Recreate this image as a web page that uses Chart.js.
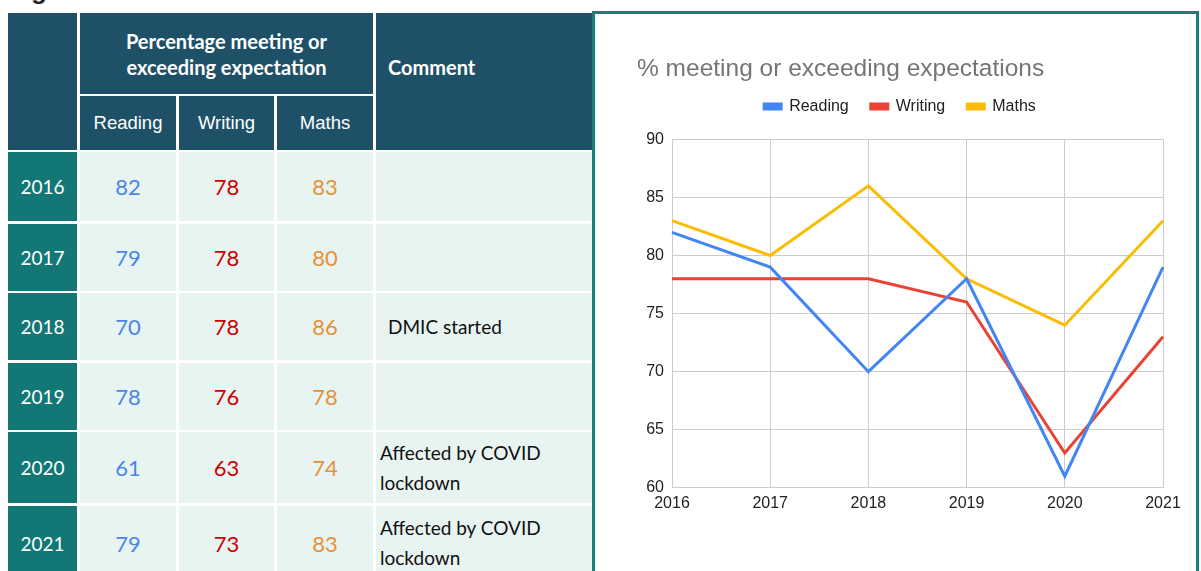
<!DOCTYPE html>
<html>
<head>
<meta charset="utf-8">
<script src="https://cdn.jsdelivr.net/npm/chart.js@4.4.1/dist/chart.umd.min.js"></script>
<style>
  html, body { margin: 0; padding: 0; background: #fff; }
  body { width: 1201px; height: 571px; position: relative; overflow: hidden; font-family: Lato, "Noto Sans", sans-serif; }
  .fig { position: absolute; left: 8px; top: -25px; font: bold 26px "Liberation Sans", Arial, sans-serif; color: #222; }
  .cell { position: absolute; box-sizing: border-box; display: flex; align-items: center; justify-content: center; }
  .hd { background: #1e5168; color: #fff; }
  .yr { background: #137875; color: #fff; font-size: 19px; }
  .bd { background: #e8f4f1; font-size: 22px; }
  .cm { justify-content: flex-start; font-size: 19px; color: #111; line-height: 30px; }
  .box { position: absolute; left: 592px; top: 11px; width: 607px; height: 570px; box-sizing: border-box;
         border: 3px solid #147f7b; border-bottom: none; background: #fff; }
  #wrap { position: absolute; left: 597px; top: 15px; width: 598px; height: 555px; }
</style>
</head>
<body>
<div class="fig">Figure 1</div>
<div id="table"></div>
<div class="box"></div>
<div id="wrap"><canvas id="c"></canvas></div>
<script>
const years = ['2016', '2017', '2018', '2019', '2020', '2021'];
const reading = [82, 79, 70, 78, 61, 79];
const writing = [78, 78, 78, 76, 63, 73];
const maths = [83, 80, 86, 78, 74, 83];
const comments = ['', '', 'DMIC started', '', 'Affected by COVID lockdown', 'Affected by COVID lockdown'];
const subjects = ['Reading', 'Writing', 'Maths'];

// table layout
const cols = [[8, 77], [80, 176], [179, 274], [277, 373], [376, 593]];
const rows = [[152, 221], [224, 291], [293, 360], [363, 430], [432, 503], [506, 580]];
const textColors = ['#4a86e8', '#cc0000', '#e69138'];

const table = document.getElementById('table');
function cell(cls, x0, x1, y0, y1, text, style) {
  const d = document.createElement('div');
  d.className = 'cell ' + cls;
  Object.assign(d.style, { left: x0 + 'px', width: (x1 - x0) + 'px', top: y0 + 'px', height: (y1 - y0) + 'px' }, style || {});
  d.textContent = text;
  table.appendChild(d);
  return d;
}
cell('hd', cols[0][0], cols[0][1], 13, 150, '');
cell('hd', cols[1][0], cols[3][1], 13, 94, 'Percentage meeting or exceeding expectation',
  { fontWeight: 'bold', fontSize: '20px', textAlign: 'center', lineHeight: '26px', padding: '0 30px' });
subjects.forEach((s, i) => cell('hd', cols[i + 1][0], cols[i + 1][1], 96, 150, s,
  { font: '18.5px "Liberation Sans", Arial, sans-serif' }));
cell('hd', cols[4][0], cols[4][1], 13, 150, 'Comment',
  { fontWeight: 'bold', fontSize: '20px', justifyContent: 'flex-start', alignItems: 'flex-start',
    paddingLeft: '12px', paddingTop: '42px' });

const series = [reading, writing, maths];
years.forEach((y, r) => {
  cell('yr', cols[0][0], cols[0][1], rows[r][0], rows[r][1], y);
  series.forEach((arr, i) => cell('bd', cols[i + 1][0], cols[i + 1][1], rows[r][0], rows[r][1], arr[r],
    { color: textColors[i] }));
  const c = cell('bd cm', cols[4][0], cols[4][1], rows[r][0], rows[r][1], comments[r]);
  c.style.paddingLeft = comments[r].length > 15 ? '4px' : '12px';
  c.style.paddingRight = '40px';
});

const lineColors = ['#4285f4', '#ea4335', '#fbbc04'];
const tickFont = { family: '"Liberation Sans", Arial, sans-serif', size: 16 };

// extra room between legend and plot area
const legendGap = {
  id: 'legendGap',
  beforeInit(chart) {
    const fit = chart.legend.fit;
    chart.legend.fit = function () { fit.call(this); this.height += 15; };
  }
};

new Chart(document.getElementById('c'), {
  type: 'line',
  data: {
    labels: years,
    datasets: subjects.map((s, i) => ({
      label: s,
      data: series[i],
      borderColor: lineColors[i],
      backgroundColor: lineColors[i],
      borderWidth: 3,
      pointRadius: 0,
      tension: 0
    }))
  },
  options: {
    responsive: true,
    maintainAspectRatio: false,
    animation: false,
    layout: { padding: { left: 40, right: 32, top: 0, bottom: 51 } },
    plugins: {
      title: {
        display: true,
        text: '% meeting or exceeding expectations',
        align: 'start',
        color: '#757575',
        font: { family: '"Liberation Sans", Arial, sans-serif', size: 24.5, weight: 'normal' },
        padding: { top: 40, bottom: -8 }
      },
      legend: {
        display: true,
        labels: {
          boxWidth: 17,
          boxHeight: 5,
          color: '#222',
          font: tickFont,
          padding: 22
        }
      },
      tooltip: { enabled: false }
    },
    scales: {
      x: {
        grid: { color: '#cccccc', drawTicks: false },
        border: { color: '#cccccc' },
        ticks: { color: '#222', font: tickFont, maxRotation: 0, autoSkip: false, padding: 6 }
      },
      y: {
        min: 60,
        max: 90,
        grid: { color: '#cccccc', drawTicks: false },
        border: { color: '#cccccc' },
        ticks: { stepSize: 5, color: '#222', font: tickFont, padding: 8 },
        afterFit(scale) { scale.width = 35; }
      }
    }
  },
  plugins: [legendGap]
});
</script>
</body>
</html>
